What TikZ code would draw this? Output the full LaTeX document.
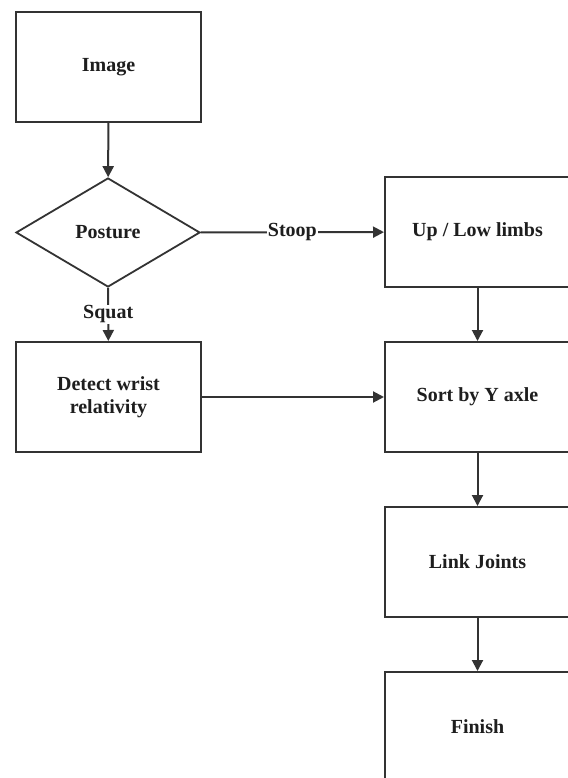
\documentclass[tikz,border=0pt]{standalone}
\usepackage{fontspec}
\setmainfont{Liberation Serif}
\usetikzlibrary{shapes.geometric,arrows.meta}
\definecolor{linec}{HTML}{333333}
\definecolor{textc}{HTML}{1E1E1E}
\tikzset{
  box/.style={draw=linec, line width=2pt, fill=white, minimum width=185pt, minimum height=110pt, inner sep=0pt, align=center, text=textc, font=\fontsize{20}{23}\selectfont\bfseries},
  dec/.style={draw=linec, line width=1.8pt, fill=white, diamond, aspect=1.69, minimum width=184pt, minimum height=109pt, inner sep=0pt, text=textc, font=\fontsize{20}{23}\selectfont\bfseries},
  conn/.style={draw=linec, line width=2pt, -{Triangle[length=11pt,width=11pt]}},
  lbl/.style={fill=white, inner sep=1pt, text=textc, font=\fontsize{20}{23}\selectfont\bfseries}
}
\begin{document}
\begin{tikzpicture}[x=1pt,y=-1pt]
\useasboundingbox[fill=white] (0,0) rectangle (567,778);
\node[box] (img) at (108.5,67) {Image};
\node[dec] (pos) at (108,232.5) {Posture};
\node[box] (det) at (108.5,397) {Detect wrist\\relativity};
\node[box] (up) at (477.5,232) {Up / Low limbs};
\node[box] (sort) at (477.5,397) {Sort by Y axle};
\node[box] (link) at (477.5,562) {Link Joints};
\node[box] (fin) at (477.5,727) {Finish};
\draw[conn] (img) -- (pos);
\draw[conn] (pos) -- node[lbl] {Stoop} (up);
\draw[conn] (pos) -- node[lbl] {Squat} (det);
\draw[conn] (det) -- (sort);
\draw[conn] (up) -- (sort);
\draw[conn] (sort) -- (link);
\draw[conn] (link) -- (fin);
\end{tikzpicture}
\end{document}
